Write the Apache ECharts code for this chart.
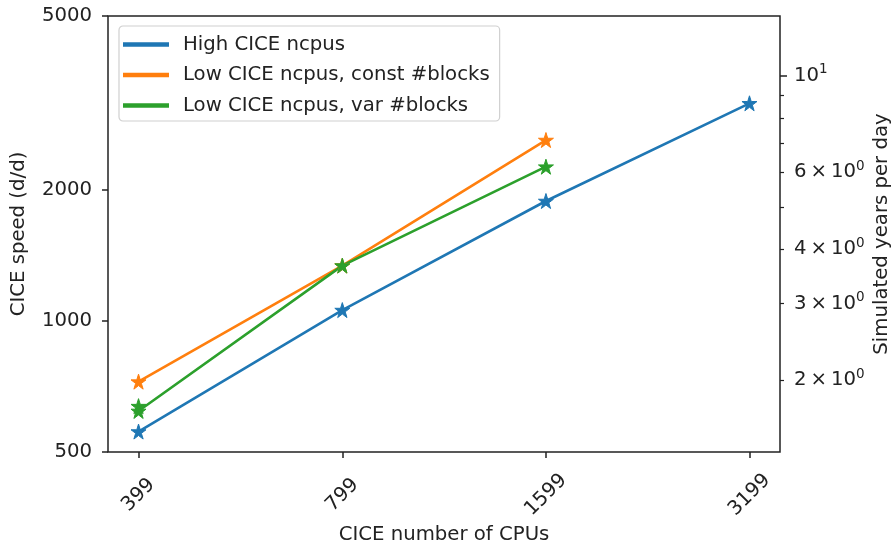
<!DOCTYPE html>
<html>
<head>
<meta charset="utf-8">
<script src="https://cdn.jsdelivr.net/npm/echarts@6/dist/echarts.min.js"></script>
<style>
  html, body { margin: 0; padding: 0; background: #fff; }
  #chart { width: 893px; height: 550px; }
</style>
</head>
<body>
<div id="chart"></div>
<script>
// CICE throughput vs. number of CPUs
const cpuTicks = [399, 799, 1599, 3199];

const highCpus = [399, 799, 1599, 3199];
const highSpeed = [557, 1058, 1882, 3153];

const lowConstCpus = [399, 799, 1599];
const lowConstSpeed = [725, 1338, 2597];

const lowVarCpus = [399, 399, 799, 1599];
const lowVarSpeed = [637, 621, 1338, 2256];

const speedTicks = [500, 1000, 2000, 5000];
const yearTicks = [2, 3, 4, 6, 10];
const yearMinorTicks = [2, 3, 4, 5, 6, 7, 8, 9];
const DAYS_PER_YEAR = 365;

const seriesNames = [
  'High CICE ncpus',
  'Low CICE ncpus, const #blocks',
  'Low CICE ncpus, var #blocks'
];
const colors = ['#1f77b4', '#ff7f0e', '#2ca02c'];

const FONT = 'DejaVu Sans';
const FS = 19.7;
const TXT = '#222';
const AX = '#222';

const speedMin = 500, speedMax = 5000;
const cpuPad = Math.pow(2, 0.15);
const cpuMin = cpuTicks[0] / cpuPad;
const cpuMax = cpuTicks[cpuTicks.length - 1] * cpuPad;

const star = 'path://M50,0 L61.2,34.5 L97.6,34.5 L68.2,55.9 L79.4,90.5 L50,69.1 L20.6,90.5 L31.8,55.9 L2.4,34.5 L38.8,34.5 Z';

function pairs(xs, ys) { return xs.map((x, i) => [x, ys[i]]); }

const chart = echarts.init(document.getElementById('chart'), null, { renderer: 'canvas' });

function lineSeries(name, xs, ys, color) {
  return {
    name, type: 'line', data: pairs(xs, ys),
    xAxisIndex: 0, yAxisIndex: 0,
    symbol: star, symbolSize: 15, showAllSymbol: true,
    lineStyle: { color, width: 2.6 },
    itemStyle: { color, borderColor: color, borderWidth: 1 },
    emphasis: { disabled: true },
    animation: false
  };
}

const baseY = {
  type: 'log',
  logBase: 10,
  splitLine: { show: false },
  minorTick: { show: false },
  minorSplitLine: { show: false }
};

chart.setOption({
  animation: false,
  backgroundColor: '#fff',
  textStyle: { fontFamily: FONT, color: TXT },
  grid: {
    left: 108, right: 113, top: 16, bottom: 98,
    outerBoundsMode: 'none',
    containLabel: false,
    show: true, borderColor: AX, borderWidth: 1.5, backgroundColor: 'transparent'
  },
  legend: {
    orient: 'vertical',
    left: 119, top: 26,
    padding: [8.5, 10, 5.5, 4],
    itemGap: 10.5,
    itemWidth: 44, itemHeight: 2.6,
    icon: 'rect',
    backgroundColor: 'rgba(255,255,255,0.8)',
    borderColor: '#d0d0d0', borderWidth: 1.2, borderRadius: 4,
    textStyle: { fontFamily: FONT, fontSize: FS, color: TXT, padding: [0, 0, 0, 10] },
    data: seriesNames
  },
  xAxis: {
    type: 'log', logBase: 2,
    min: cpuMin, max: cpuMax,
    name: 'CICE number of CPUs',
    nameLocation: 'middle', nameGap: 73, nameMoveOverlap: false,
    nameTextStyle: { fontFamily: FONT, fontSize: FS, color: TXT },
    axisLine: { show: false },
    axisTick: { show: true, length: 6, lineStyle: { color: AX, width: 1.5 }, customValues: cpuTicks },
    axisLabel: {
      customValues: cpuTicks, rotate: 45, align: 'center', verticalAlign: 'middle',
      margin: 43, fontFamily: FONT, fontSize: FS, color: TXT,
      formatter: v => String(Math.round(v))
    },
    splitLine: { show: false }, minorTick: { show: false }
  },
  yAxis: [
    Object.assign({}, baseY, {
      min: speedMin, max: speedMax, position: 'left',
      name: 'CICE speed (d/d)', nameLocation: 'middle', nameGap: 79, nameMoveOverlap: false,
      nameTextStyle: { fontFamily: FONT, fontSize: FS, color: TXT },
      axisLine: { show: false },
      axisTick: { show: true, length: 6, lineStyle: { color: AX, width: 1.5 }, customValues: speedTicks },
      axisLabel: { customValues: speedTicks, margin: 16, fontFamily: FONT, fontSize: FS, color: TXT,
        formatter: v => String(Math.round(v)) }
    }),
    Object.assign({}, baseY, {
      min: speedMin / DAYS_PER_YEAR, max: speedMax / DAYS_PER_YEAR, position: 'right',
      name: 'Simulated years per day', nameLocation: 'middle', nameGap: 92, nameMoveOverlap: false,
      nameTextStyle: { fontFamily: FONT, fontSize: FS, color: TXT },
      axisLine: { show: false },
      axisTick: { show: true, length: 4, lineStyle: { color: AX, width: 1.2 }, customValues: yearMinorTicks },
      axisLabel: {
        customValues: yearTicks, margin: 14, fontFamily: FONT, fontSize: FS, color: TXT,
        formatter: v => {
          const r = Math.round(v);
          return r === 10 ? '{b|10}{s|1}' : '{b|' + r + '\u2009\u00d7\u200910}{s|0}';
        },
        rich: {
          b: { fontFamily: FONT, fontSize: FS, color: TXT, lineHeight: 26 },
          s: { fontFamily: FONT, fontSize: 13.5, color: TXT, verticalAlign: 'top', lineHeight: 26 }
        }
      }
    }),
    Object.assign({}, baseY, {
      min: speedMin / DAYS_PER_YEAR, max: speedMax / DAYS_PER_YEAR, position: 'right',
      axisLine: { show: false },
      axisTick: { show: true, length: 7, lineStyle: { color: AX, width: 1.5 }, customValues: [10] },
      axisLabel: { show: false }
    })
  ],
  series: [
    lineSeries(seriesNames[0], highCpus, highSpeed, colors[0]),
    lineSeries(seriesNames[1], lowConstCpus, lowConstSpeed, colors[1]),
    lineSeries(seriesNames[2], lowVarCpus, lowVarSpeed, colors[2])
  ]
});
</script>
</body>
</html>
